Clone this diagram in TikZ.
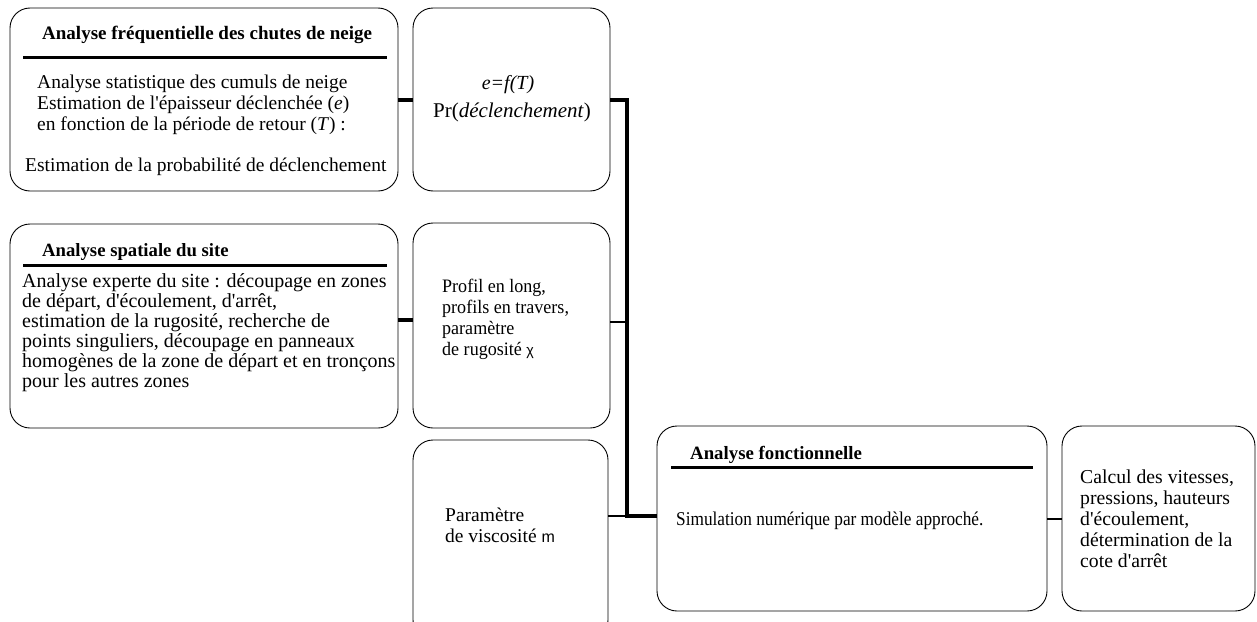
\documentclass[tikz,border=0pt]{standalone}
\usepackage{fontspec}
\setmainfont{Liberation Serif}[Ligatures=TeXOff]
\newfontfamily\symsans{Liberation Sans}
\begin{document}
\begin{tikzpicture}[x=1pt,y=-1pt,
  boxst/.style={draw,line width=0.9pt,rounded corners=20pt},
  rulest/.style={line width=3pt},
  connthick/.style={line width=3.5pt},
  connmid/.style={line width=2.5pt},
  connthin/.style={line width=1.6pt},
  txt/.style={anchor=base west,inner sep=0pt},
  ctxt/.style={anchor=base,inner sep=0pt},
  fa/.style={font=\fontsize{19.5}{23}\selectfont},
  fb/.style={font=\fontsize{21}{24}\selectfont},
  fc/.style={font=\fontsize{20}{24}\selectfont},
  fd/.style={font=\fontsize{19}{22}\selectfont,xscale=0.95},
  fe/.style={font=\fontsize{19.5}{23}\selectfont},
  ff/.style={font=\fontsize{19.5}{23}\selectfont,xscale=0.885},
  fg/.style={font=\fontsize{19.7}{23}\selectfont},
  ttl/.style={anchor=base west,inner sep=0pt}]
\useasboundingbox (0,0) rectangle (1257,621);
\begin{scope}
\clip (0,0) rectangle (1257,621);
% boxes
\draw[boxst] (10,8) rectangle (398,191);
\coordinate (b1e) at (398,100);
\draw[boxst] (413,8) rectangle (610,191);
\coordinate (b2w) at (413,100); \coordinate (b2e) at (610,100);
\draw[boxst] (10,224) rectangle (398,428);
\coordinate (b3e) at (398,320);
\draw[boxst] (413,223) rectangle (610,428);
\coordinate (b4w) at (413,320); \coordinate (b4e) at (610,322);
\draw[boxst] (413,440) rectangle (608,640);
\coordinate (b5e) at (608,516);
\draw[boxst] (657,426) rectangle (1047,611);
\coordinate (b6w) at (657,516); \coordinate (b6e) at (1047,519);
\draw[boxst] (1062,426) rectangle (1255,611);
\coordinate (b7w) at (1062,519);
\end{scope}
% box 1 text
\node[ttl,font=\fontsize{19}{22}\selectfont\bfseries] (t1) at (42,39) {Analyse fréquentielle des chutes de neige};
\draw[rulest] (23,57) -- (387,57);
\node[txt,fa] (l11) at (37,88) {Analyse statistique des cumuls de neige};
\node[txt,fa] (l12) at (37,109) {Estimation de l'épaisseur déclenchée (\textit{e})};
\node[txt,fa] (l13) at (37,130) {en fonction de la période de retour (\textit{T}) :};
\node[txt,fa] (l14) at (25,171) {Estimation de la probabilité de déclenchement};
% box 2 text
\node[ctxt,font=\fontsize{20}{24}\selectfont] (l21) at (508,89) {\textit{e=f(T)}};
\node[ctxt,fb] (l22) at (512,117) {Pr(\textit{déclenchement})};
% box 3 text
\node[ttl,font=\fontsize{18.7}{22}\selectfont\bfseries] (t3) at (42,256) {Analyse spatiale du site};
\draw[rulest] (23,265) -- (387,265);
\node[txt,fc] (l31) at (22,287) {Analyse experte du site : découpage en zones};
\node[txt,fc] (l32) at (22,307) {de départ, d'écoulement, d'arrêt,};
\node[txt,fc] (l33) at (22,327) {estimation de la rugosité, recherche de};
\node[txt,fc] (l34) at (22,347) {points singuliers, découpage en panneaux};
\node[txt,fc] (l35) at (22,367) {homogènes de la zone de départ et en tronçons};
\node[txt,fc] (l36) at (22,387) {pour les autres zones};
% box 4 text
\node[txt,fd] (l41) at (442,292) {Profil en long,};
\node[txt,fd] (l42) at (442,313) {profils en travers,};
\node[txt,fd] (l43) at (442,334) {paramètre};
\node[txt,fd] (l44) at (442,355) {de rugosité {\symsans\fontsize{15}{18}\selectfont χ}};
% box 5 text
\node[txt,fe] (l51) at (445,521) {Paramètre};
\node[txt,fe] (l52) at (445,542) {de viscosité {\symsans\fontsize{16}{19}\selectfont m}};
% box 6 text
\node[ttl,font=\fontsize{18.8}{22}\selectfont\bfseries] (t6) at (690,459) {Analyse fonctionnelle};
\draw[rulest] (671,467) -- (1033,467);
\node[txt,ff] (l61) at (676,525) {Simulation numérique par modèle approché.};
% box 7 text
\node[txt,fg] (l71) at (1080,483) {Calcul des vitesses,};
\node[txt,fg] (l72) at (1080,504) {pressions, hauteurs};
\node[txt,fg] (l73) at (1080,525) {d'écoulement,};
\node[txt,fg] (l74) at (1080,546) {détermination de la};
\node[txt,fg] (l75) at (1080,567) {cote d'arrêt};
% connectors
\coordinate (j1) at (627,100);
\coordinate (j2) at (627,322);
\coordinate (j3) at (627,516);
\draw[connthick] (b1e) -- (b2w);
\draw[connthick] (b2e) -- (j1) -- (j3) -- (b6w);
\draw[connthick] (b3e) -- (b4w);
\draw[connmid] (b4e) -- (j2);
\draw[connthin] (b5e) -- (j3);
\draw[connmid] (b6e) -- (b7w);
\end{tikzpicture}
\end{document}
